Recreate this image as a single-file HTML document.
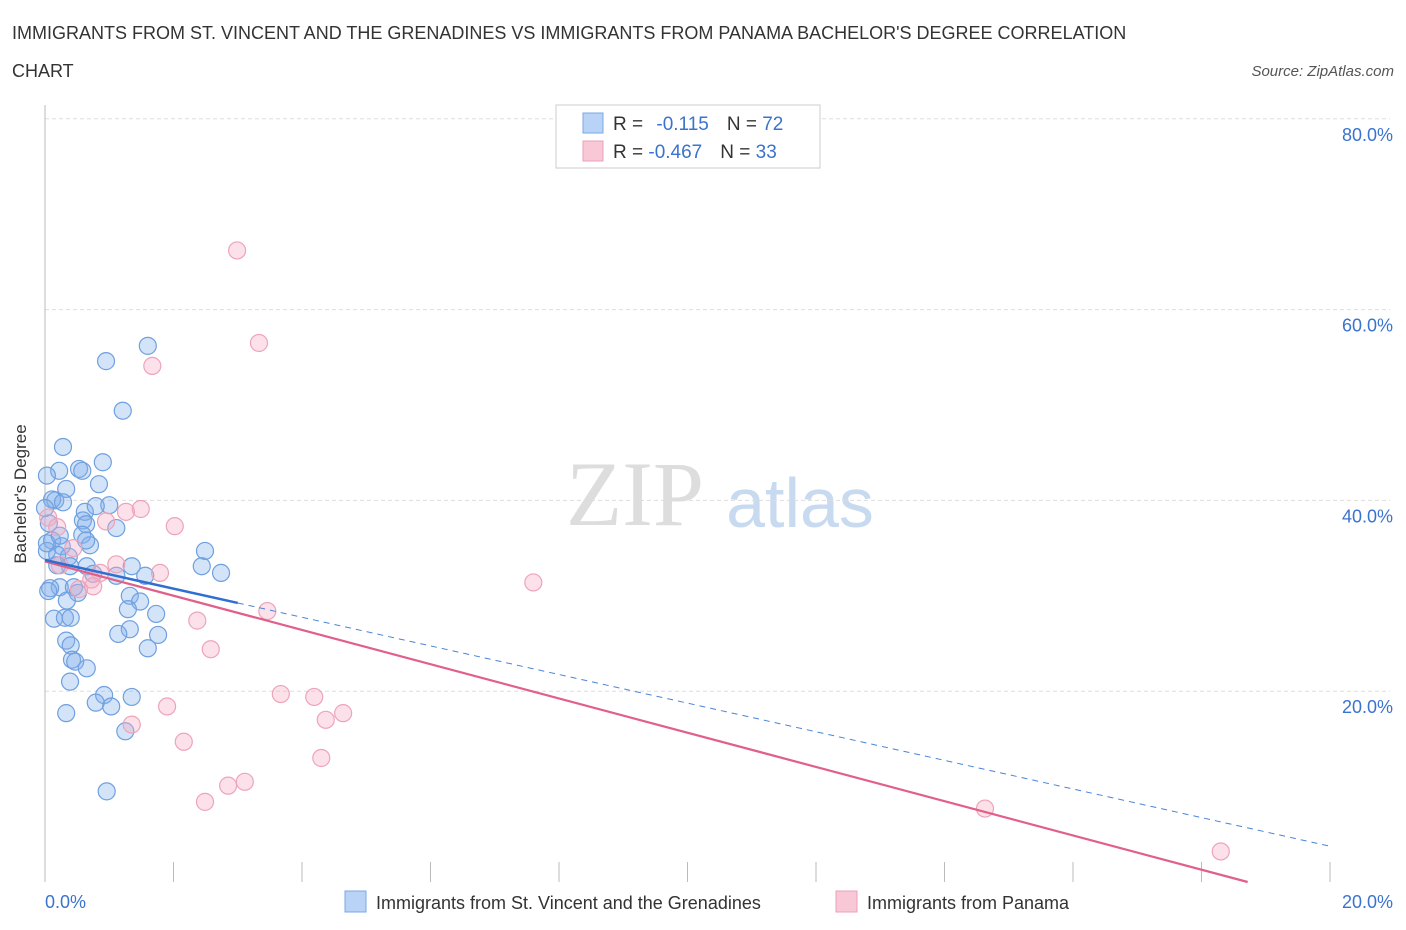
<!DOCTYPE html>
<html><head><meta charset="utf-8"><style>
body{margin:0;background:#fff;font-family:"Liberation Sans",sans-serif;}
svg{display:block}
</style></head><body>
<svg width="1406" height="930" xmlns="http://www.w3.org/2000/svg">
<text x="12" y="39" font-size="18" fill="#333">IMMIGRANTS FROM ST. VINCENT AND THE GRENADINES VS IMMIGRANTS FROM PANAMA BACHELOR'S DEGREE CORRELATION</text>
<text x="12" y="77" font-size="18" fill="#333">CHART</text>
<text x="1394" y="76" font-size="15" fill="#555" font-style="italic" text-anchor="end">Source: ZipAtlas.com</text>
<g>
<text x="635" y="525" font-size="92" fill="#ddd" font-family="Liberation Serif,serif" text-anchor="middle">ZIP</text>
<text x="800" y="527" font-size="70" fill="#c8daf0" text-anchor="middle">atlas</text>
</g>
<g id="grid"></g>
<line x1="45" y1="105" x2="45" y2="882" stroke="#bbb"/>
<g id="xticks"></g>
<text x="26" y="494" font-size="17" fill="#333" text-anchor="middle" transform="rotate(-90 26 494)">Bachelor's Degree</text>
<g id="pts"></g>
<g id="trends"></g>
<g>
<rect x="556" y="105" width="264" height="63" fill="#fff" stroke="#ccc"/>
<rect x="583" y="113" width="20" height="20" fill="#b8d3f5" stroke="#7aa7e6"/>
<text x="613" y="130" font-size="19" fill="#333">R = <tspan fill="#3a73cf" dx="8">-0.115</tspan><tspan dx="18" fill="#333">N = </tspan><tspan fill="#3a73cf">72</tspan></text>
<rect x="583" y="141" width="20" height="20" fill="#f8c8d6" stroke="#eba0b5"/>
<text x="613" y="158" font-size="19" fill="#333">R = <tspan fill="#3a73cf">-0.467</tspan><tspan dx="18" fill="#333">N = </tspan><tspan fill="#3a73cf">33</tspan></text>
</g>
<g>
<rect x="345" y="891" width="21" height="21" fill="#b8d3f5" stroke="#7aa7e6"/>
<text x="376" y="909" font-size="18" fill="#333">Immigrants from St. Vincent and the Grenadines</text>
<rect x="836" y="891" width="21" height="21" fill="#f8c8d6" stroke="#eba0b5"/>
<text x="867" y="909" font-size="18" fill="#333">Immigrants from Panama</text>
</g>
</svg>
<script>
const yTicks=[20,40,60,80];
const xTickVals=[0,2,4,6,8,10,12,14,16,18,20];
const blueX=[0.95,1.60,1.21,0.28,0.90,0.22,0.53,0.03,0.58,0.84,0.33,0.16,0.11,0.28,1.00,0.62,0.59,0.64,1.11,0.58,0.06,0.11,0.26,0.37,0.03,0.19,2.49,2.44,2.74,1.35,1.56,1.11,0.39,0.65,0.23,0.08,0.45,0.51,1.32,1.48,0.34,1.29,1.73,0.14,0.31,0.40,1.32,1.14,1.76,0.33,0.40,1.60,0.42,0.47,0.65,0.39,0.92,1.35,0.79,1.03,0.33,1.25,0.96,0.03,0.70,0.23,0.19,0.0,0.79,0.05,0.64,0.75];
const blueY=[54.6,56.2,49.4,45.6,44.0,43.1,43.3,42.6,43.1,41.7,41.2,40.0,40.1,39.8,39.5,38.8,37.9,37.5,37.1,36.4,37.6,35.8,35.2,34.1,34.7,34.3,34.7,33.1,32.4,33.1,32.1,32.1,33.1,33.1,30.9,30.8,30.9,30.3,30.0,29.4,29.5,28.6,28.1,27.6,27.7,27.7,26.5,26.0,25.9,25.3,24.8,24.5,23.3,23.1,22.4,21.0,19.6,19.4,18.8,18.4,17.7,15.8,9.5,35.5,35.3,36.3,33.2,39.2,39.4,30.5,35.8,32.3];
const pinkX=[2.99,3.33,1.67,1.49,1.26,2.02,0.95,0.05,0.19,0.44,0.23,1.11,1.79,0.86,0.72,0.53,0.75,7.60,3.46,2.37,2.58,3.67,4.19,4.64,4.37,1.90,1.35,2.16,4.30,3.11,2.85,2.49,14.63,18.30];
const pinkY=[66.2,56.5,54.1,39.1,38.8,37.3,37.8,38.2,37.2,35.0,33.2,33.3,32.4,32.4,31.7,30.7,31.0,31.4,28.4,27.4,24.4,19.7,19.4,17.7,17.0,18.4,16.5,14.7,13.0,10.5,10.1,8.4,7.7,3.2];
const blueTrend=[33.75,-1.5];   // intercept %, slope per x%
const blueSolidEnd=3.0;
const pinkTrend=[33.6,-1.795];
const NS="http://www.w3.org/2000/svg";
const X=v=>45+v*64.25, Y=v=>882-v*9.54;
function mk(t,a,p){const e=document.createElementNS(NS,t);for(const k in a)e.setAttribute(k,a[k]);p.appendChild(e);return e;}
const grid=document.getElementById('grid');
yTicks.forEach(t=>{
 const l=mk('line',{x1:45,x2:1390,y1:Y(t),y2:Y(t),stroke:'#ddd','stroke-dasharray':'4,3'},grid);
 
 
 const tx=mk('text',{x:1393,y:Y(t)+22,'font-size':18,fill:'#3a73cf','text-anchor':'end'},grid);
 tx.textContent=t.toFixed(1)+'%';
 
 
});
const xt=document.getElementById('xticks');
xTickVals.forEach(t=>{
 const l=mk('line',{x1:X(t),x2:X(t),y1:862,y2:882,stroke:'#bbb'},xt);
 
 
});
[[0,'0.0%',45,'start'],[20,'20.0%',1393,'end']].forEach(d=>{
 const tx=mk('text',{x:d[2],y:908,'font-size':18,fill:'#3a73cf','text-anchor':d[3]},xt);
 tx.textContent=d[1];
 
 
});
const pts=document.getElementById('pts');
blueX.forEach((x,i)=>{
 const c=mk('circle',{cx:X(x),cy:Y(blueY[i]),r:8.5,fill:'rgba(130,175,235,0.35)',stroke:'#6fa0e0','stroke-width':1.2},pts);
 
 
});
pinkX.forEach((x,i)=>{
 const c=mk('circle',{cx:X(x),cy:Y(pinkY[i]),r:8.5,fill:'rgba(245,170,195,0.35)',stroke:'#eda4b9','stroke-width':1.2},pts);
 
 
});
const tr=document.getElementById('trends');
const bf=v=>blueTrend[0]+blueTrend[1]*v, pf=v=>pinkTrend[0]+pinkTrend[1]*v;
let l=mk('line',{x1:X(blueSolidEnd),y1:Y(bf(blueSolidEnd)),x2:X(20),y2:Y(bf(20)),stroke:'#4a84d8','stroke-width':1,'stroke-dasharray':'6,5'},tr);


const pEnd=-pinkTrend[0]/pinkTrend[1];
l=mk('line',{x1:X(0),y1:Y(pf(0)),x2:X(pEnd),y2:Y(pf(pEnd)),stroke:'#e0608a','stroke-width':2.2},tr);


l=mk('line',{x1:X(0),y1:Y(bf(0)),x2:X(blueSolidEnd),y2:Y(bf(blueSolidEnd)),stroke:'#2f6fd0','stroke-width':2.5},tr);


</script>
</body></html>
